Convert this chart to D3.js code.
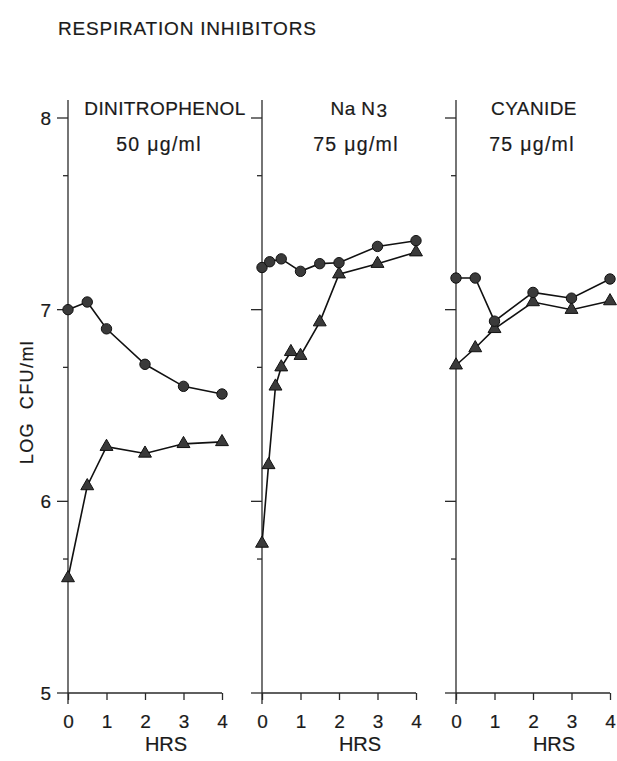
<!DOCTYPE html>
<html>
<head>
<meta charset="utf-8">
<script src="https://cdn.jsdelivr.net/npm/d3@7"></script>
<style>
  html, body { margin: 0; padding: 0; background: #fff; }
  svg { display: block; }
  text { font-family: "Liberation Sans", Arial, Helvetica, sans-serif; fill: #1a1a1a; stroke: #1a1a1a; stroke-width: 0.2px; }
</style>
</head>
<body>
<svg id="chart" width="617" height="761"></svg>
<script>
// Hours sampled and log10 CFU/ml, circles = control-like series, triangles = second series
const dnpCircleHours = [0, 0.5, 1, 2, 3, 4];
const dnpCircleLog   = [7.00, 7.04, 6.90, 6.715, 6.60, 6.56];
const dnpTriHours    = [0, 0.5, 1, 2, 3, 4];
const dnpTriLog      = [5.60, 6.08, 6.285, 6.25, 6.30, 6.31];

const azideCircleHours = [0, 0.2, 0.5, 1, 1.5, 2, 3, 4];
const azideCircleLog   = [7.22, 7.25, 7.265, 7.20, 7.24, 7.245, 7.33, 7.36];
const azideTriHours    = [0, 0.17, 0.35, 0.5, 0.75, 1, 1.5, 2, 3, 4];
const azideTriLog      = [5.78, 6.19, 6.60, 6.70, 6.78, 6.76, 6.935, 7.185, 7.24, 7.30];

const cyanCircleHours = [0, 0.5, 1, 2, 3, 4];
const cyanCircleLog   = [7.165, 7.165, 6.94, 7.09, 7.06, 7.16];
const cyanTriHours    = [0, 0.5, 1, 2, 3, 4];
const cyanTriLog      = [6.71, 6.80, 6.90, 7.04, 7.00, 7.045];

const panelNames  = ["DINITROPHENOL", "Na N", "CYANIDE"];
const panelDoses  = ["50 \u03bcg/ml", "75 \u03bcg/ml", "75 \u03bcg/ml"];
const hourTicks   = [0, 1, 2, 3, 4];
const logMajor    = [5, 6, 7, 8];
const cfuMinor    = [5e5, 5e6, 5e7];   // half-decade marks on the log axis

const svg = d3.select("#chart");

const y = d3.scaleLinear().domain([5, 8]).range([693, 118]);
const panelLeft = [68, 262, 456];
const panelWidth = 154;

const zip = (a, b) => a.map((v, i) => [v, b[i]]);
const panels = [
  { circles: zip(dnpCircleHours, dnpCircleLog),     tris: zip(dnpTriHours, dnpTriLog) },
  { circles: zip(azideCircleHours, azideCircleLog), tris: zip(azideTriHours, azideTriLog) },
  { circles: zip(cyanCircleHours, cyanCircleLog),   tris: zip(cyanTriHours, cyanTriLog) }
];

// Title
svg.append("text")
  .attr("x", 58).attr("y", 35)
  .attr("font-size", 19).attr("letter-spacing", 0.8)
  .text("RESPIRATION INHIBITORS");

// Y-axis title
svg.append("text")
  .attr("transform", "translate(33,402) rotate(-90)")
  .attr("text-anchor", "middle")
  .attr("font-size", 18).attr("letter-spacing", 1.4)
  .attr("xml:space", "preserve")
  .text("LOG  CFU/ml");

panels.forEach((p, i) => {
  const x = d3.scaleLinear().domain([0, 4]).range([panelLeft[i], panelLeft[i] + panelWidth]);
  const g = svg.append("g");
  const x0 = x(0);

  // vertical axis line, running a little past both ends
  g.append("line")
    .attr("x1", x0).attr("x2", x0).attr("y1", 100).attr("y2", 704)
    .attr("stroke", "#2a2a2a").attr("stroke-width", 1.3);

  // major and half-decade ticks
  g.selectAll(".maj").data(logMajor).join("line")
    .attr("x1", x0 - 11).attr("x2", x0)
    .attr("y1", d => y(d)).attr("y2", d => y(d))
    .attr("stroke", "#2a2a2a").attr("stroke-width", 1.3);
  g.selectAll(".min").data(cfuMinor).join("line")
    .attr("x1", x0 - 5).attr("x2", x0)
    .attr("y1", d => y(Math.log10(d))).attr("y2", d => y(Math.log10(d)))
    .attr("stroke", "#2a2a2a").attr("stroke-width", 1.3);

  if (i === 0) {
    g.selectAll(".ylab").data(logMajor).join("text")
      .attr("x", 51).attr("y", d => y(d)).attr("dy", "0.36em")
      .attr("text-anchor", "end").attr("font-size", 19)
      .text(d => d);
  }

  // horizontal axis
  const xAxis = d3.axisBottom(x).tickValues(hourTicks).tickSize(7).tickPadding(15)
    .tickFormat(d3.format("d"));
  const ax = g.append("g").attr("transform", `translate(0,${y(5)})`).call(xAxis);
  ax.select(".domain").attr("d", `M${x(0)},0H${x(4)}`).attr("stroke", "#2a2a2a").attr("stroke-width", 1.3);
  ax.selectAll(".tick line").attr("stroke", "#2a2a2a").attr("stroke-width", 1.3);
  ax.selectAll(".tick text")
    .attr("font-size", 19).attr("fill", "#1a1a1a")
    .attr("font-family", "Liberation Sans, Arial, sans-serif");

  g.append("text")
    .attr("x", (x(0) + x(4)) / 2 + 21).attr("y", 751)
    .attr("text-anchor", "middle").attr("font-size", 20)
    .text("HRS");

  // panel headings
  const cx = [165, 359, 534][i];
  const head = g.append("text")
    .attr("x", cx).attr("y", 115)
    .attr("text-anchor", "middle").attr("font-size", 19).attr("letter-spacing", 0.4);
  head.append("tspan").text(panelNames[i]);
  if (i === 1) head.append("tspan").attr("dx", 1).attr("dy", 2).text("3");

  g.append("text")
    .attr("x", [159, 356, 532][i]).attr("y", 151)
    .attr("text-anchor", "middle").attr("font-size", 19.5).attr("letter-spacing", 1.3)
    .text(panelDoses[i]);

  const line = d3.line().x(d => x(d[0])).y(d => y(d[1]));
  [p.circles, p.tris].forEach(s => {
    g.append("path").datum(s).attr("d", line)
      .attr("fill", "none").attr("stroke", "#111").attr("stroke-width", 1.6);
  });

  g.selectAll(".tri").data(p.tris).join("path")
    .attr("transform", d => `translate(${x(d[0])},${y(d[1])})`)
    .attr("d", d3.symbol(d3.symbolTriangle, 72)())
    .attr("fill", "#3a3a3a").attr("stroke", "#111").attr("stroke-width", 1);

  g.selectAll(".dot").data(p.circles).join("circle")
    .attr("cx", d => x(d[0])).attr("cy", d => y(d[1])).attr("r", 5.2)
    .attr("fill", "#3a3a3a").attr("stroke", "#111").attr("stroke-width", 1);
});
</script>
</body>
</html>
